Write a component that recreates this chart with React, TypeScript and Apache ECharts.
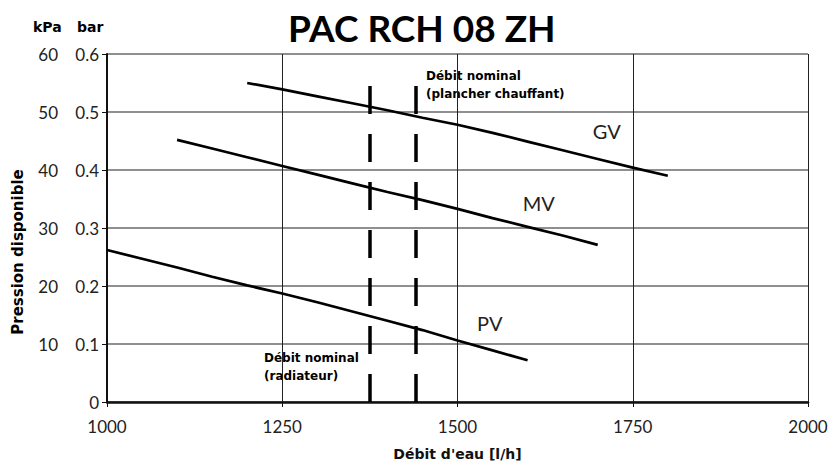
import React, { useEffect, useRef } from "react";
import * as echarts from "echarts";

const TITLE = "PAC RCH 08 ZH";
const X_TICKS = [1000, 1250, 1500, 1750, 2000];

const GV_X = [1200, 1250, 1300, 1350, 1400, 1450, 1500, 1550, 1600, 1650, 1700, 1750, 1800];
const GV_Y = [0.55, 0.539, 0.527, 0.515, 0.503, 0.49, 0.478, 0.464, 0.449, 0.434, 0.419, 0.404, 0.39];

const MV_X = [1100, 1150, 1200, 1250, 1300, 1350, 1400, 1450, 1500, 1550, 1600, 1650, 1700];
const MV_Y = [0.452, 0.437, 0.422, 0.407, 0.392, 0.377, 0.362, 0.348, 0.333, 0.317, 0.302, 0.287, 0.271];

const PV_X = [1000, 1050, 1100, 1150, 1200, 1250, 1300, 1350, 1400, 1450, 1500, 1550, 1600];
const PV_Y = [0.262, 0.247, 0.232, 0.216, 0.201, 0.187, 0.172, 0.156, 0.14, 0.124, 0.106, 0.089, 0.072];

const SERIES_NAMES = ["GV", "MV", "PV"];
const LABEL_POS: [number, number][] = [
  [1713, 0.467],
  [1616, 0.343],
  [1546, 0.136],
];

const NOMINAL_RAD = 1375;
const NOMINAL_FLOOR = 1440;
const NOMINAL_TOP = 0.55;

const FONT = "Lato, 'DejaVu Sans', sans-serif";
const BOLD_FONT = "'DejaVu Sans', sans-serif";

export default function App() {
  const ref = useRef<HTMLDivElement>(null);
  useEffect(() => {
    document.body.style.margin = "0";
    if (!ref.current) return;
    const chart = echarts.init(ref.current, null, { renderer: "svg" });
    const xs = [GV_X, MV_X, PV_X];
    const ys = [GV_Y, MV_Y, PV_Y];
    const series: any[] = SERIES_NAMES.map((name, i) => ({
      name,
      type: "line",
      symbol: "none",
      data: xs[i].map((x, j) => [x, ys[i][j]]),
      lineStyle: { color: "#000", width: 2.7 },
      markPoint: {
        symbol: "circle",
        symbolSize: 0,
        data: [{ coord: LABEL_POS[i], value: name }],
        label: {
          show: true,
          formatter: name,
          fontFamily: FONT,
          fontSize: 20,
          color: "#222",
        },
      },
    }));
    series.push({
      name: "nominal",
      type: "line",
      data: [],
      markLine: {
        silent: true,
        symbol: ["none", "none"],
        label: { show: false },
        lineStyle: { color: "#000", width: 3.5, type: [28, 20] },
        data: [
          [{ coord: [NOMINAL_RAD, 0] }, { coord: [NOMINAL_RAD, NOMINAL_TOP] }],
          [{ coord: [NOMINAL_FLOOR, 0] }, { coord: [NOMINAL_FLOOR, NOMINAL_TOP] }],
        ],
      },
    });

    chart.setOption({
      animation: false,
      backgroundColor: "#fff",
      grid: { left: 107, right: 25, top: 54, bottom: 66 },
      xAxis: {
        type: "value",
        min: X_TICKS[0],
        max: X_TICKS[X_TICKS.length - 1],
        interval: 250,
        name: "Débit d'eau [l/h]",
        nameLocation: "middle",
        nameGap: 45,
        nameTextStyle: { fontFamily: BOLD_FONT, fontWeight: "bold", fontSize: 14, color: "#111" },
        axisLine: { show: true, onZero: false, lineStyle: { color: "#111", width: 2.5 } },
        axisTick: { show: true, length: 5, lineStyle: { color: "#111" } },
        axisLabel: {
          fontFamily: FONT,
          fontSize: 17,
          color: "#222",
          margin: 16,
          formatter: (v: number) => String(v),
        },
        splitLine: { show: true, lineStyle: { color: "#222", width: 1 } },
      },
      yAxis: [
        {
          type: "value",
          min: 0,
          max: 0.6,
          interval: 0.1,
          position: "left",
          axisLine: { show: true, lineStyle: { color: "#111", width: 2 } },
          axisTick: { show: true, length: 5, lineStyle: { color: "#111" } },
          axisLabel: {
            fontFamily: FONT,
            fontSize: 17,
            color: "#222",
            margin: 8,
            formatter: (v: number) => (v === 0 ? "0" : v.toFixed(1)),
          },
          splitLine: { show: true, lineStyle: { color: "#6a6a6a", width: 1.5 } },
        },
        {
          type: "value",
          min: 0,
          max: 60,
          interval: 10,
          position: "left",
          offset: 41,
          axisLine: { show: false },
          axisTick: { show: false },
          axisLabel: {
            fontFamily: FONT,
            fontSize: 17,
            color: "#222",
            margin: 8,
            formatter: (v: number) => (v === 0 ? "" : String(v)),
          },
          splitLine: { show: false },
        },
      ],
      graphic: [
        {
          type: "text",
          left: 288,
          top: 9,
          style: { text: TITLE, fontFamily: FONT, fontWeight: "bold", fontSize: 37, fill: "#000" },
        },
        {
          type: "text",
          left: 33,
          top: 20,
          style: { text: "kPa", fontFamily: BOLD_FONT, fontWeight: "bold", fontSize: 14, fill: "#000" },
        },
        {
          type: "text",
          left: 77,
          top: 20,
          style: { text: "bar", fontFamily: BOLD_FONT, fontWeight: "bold", fontSize: 14, fill: "#000" },
        },
        {
          type: "text",
          x: 18,
          y: 252,
          rotation: Math.PI / 2,
          style: {
            text: "Pression disponible",
            fontFamily: BOLD_FONT,
            fontWeight: "bold",
            fontSize: 15,
            fill: "#000",
            align: "center",
            verticalAlign: "middle",
          },
        },
        {
          type: "text",
          left: 426,
          top: 67,
          style: {
            text: "Débit nominal\n(plancher chauffant)",
            fontFamily: BOLD_FONT,
            fontWeight: "bold",
            fontSize: 12,
            lineHeight: 18,
            fill: "#000",
          },
        },
        {
          type: "text",
          left: 264,
          top: 349,
          style: {
            text: "Débit nominal\n(radiateur)",
            fontFamily: BOLD_FONT,
            fontWeight: "bold",
            fontSize: 12,
            lineHeight: 18,
            fill: "#000",
          },
        },
      ],
      series,
    });
    return () => chart.dispose();
  }, []);
  return <div ref={ref} style={{ width: 833, height: 468 }} />;
}
